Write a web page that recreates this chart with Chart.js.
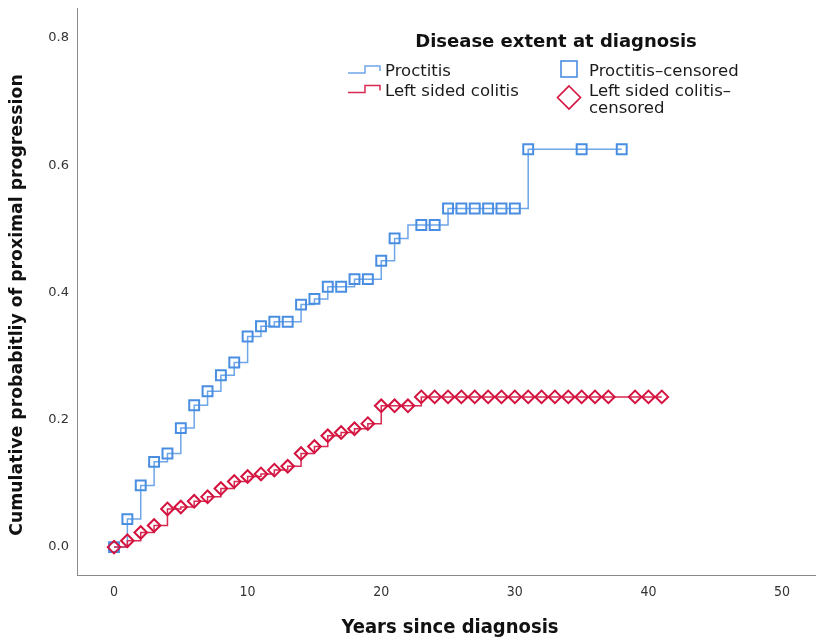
<!DOCTYPE html>
<html>
<head>
<meta charset="utf-8">
<script src="https://cdn.jsdelivr.net/npm/chart.js@4"></script>
<style>
  html, body { margin: 0; padding: 0; background: #fff; }
  canvas { display: block; }
</style>
</head>
<body>
<canvas id="chart" width="816" height="642"></canvas>
<script>
// Cumulative probability of proximal progression by disease extent at diagnosis

// Proctitis: step curve (time in years, cumulative probability)
const proctitisTimes  = [0, 1, 2, 3, 4, 5, 6, 7, 8, 9, 10, 11, 12, 13, 14, 15, 16, 17, 18, 19, 20, 21, 22, 23, 24, 25, 26, 27, 28, 29, 30, 31, 35, 38];
const proctitisValues = [0, 0.044, 0.097, 0.134, 0.147, 0.187, 0.223, 0.245, 0.270, 0.290, 0.331, 0.347, 0.354, 0.354, 0.381, 0.390, 0.409, 0.409, 0.421, 0.421, 0.450, 0.485, 0.506, 0.506, 0.506, 0.532, 0.532, 0.532, 0.532, 0.532, 0.532, 0.625, 0.625, 0.625];
// Proctitis: censoring times
const proctitisCensored = [0, 1, 2, 3, 4, 5, 6, 7, 8, 9, 10, 11, 12, 13, 14, 15, 16, 17, 18, 19, 20, 21, 23, 24, 25, 26, 27, 28, 29, 30, 31, 35, 38];

// Left sided colitis: step curve
const leftTimes  = [0, 1, 2, 3, 4, 5, 6, 7, 8, 9, 10, 11, 12, 13, 14, 15, 16, 17, 18, 19, 20, 21, 22, 23, 24, 25, 26, 27, 28, 29, 30, 31, 32, 33, 34, 35, 36, 37, 39, 40, 41];
const leftValues = [0, 0.010, 0.023, 0.034, 0.060, 0.063, 0.072, 0.079, 0.092, 0.103, 0.111, 0.115, 0.121, 0.127, 0.147, 0.158, 0.175, 0.180, 0.186, 0.194, 0.222, 0.222, 0.222, 0.236, 0.236, 0.236, 0.236, 0.236, 0.236, 0.236, 0.236, 0.236, 0.236, 0.236, 0.236, 0.236, 0.236, 0.236, 0.236, 0.236, 0.236];
// Left sided colitis: censoring times
const leftCensored = [0, 1, 2, 3, 4, 5, 6, 7, 8, 9, 10, 11, 12, 13, 14, 15, 16, 17, 18, 19, 20, 21, 22, 23, 24, 25, 26, 27, 28, 29, 30, 31, 32, 33, 34, 35, 36, 37, 39, 40, 41];

// Axis ticks
const xTicks = [0, 10, 20, 30, 40, 50];
const yTicks = [0, 0.2, 0.4, 0.6, 0.8];

const xTitle = 'Years since diagnosis';
const yTitle = 'Cumulative probabitliy of proximal progression';

const BLUE_LINE = '#6ea6e8';
const BLUE_MARK = '#4a8ee2';
const RED_LINE = '#d62a52';
const RED_MARK = '#d4123e';

const toPoints = (xs, ys) => xs.map((x, i) => ({ x: x, y: ys[i] }));
// value of the step curve at time t (last event at or before t)
const stepValue = (xs, ys, t) => {
  let v = ys[0];
  for (let i = 0; i < xs.length; i++) { if (xs[i] <= t) v = ys[i]; }
  return v;
};
const censorPoints = (cs, xs, ys) => cs.map(t => ({ x: t, y: stepValue(xs, ys, t) }));

// Axis titles and legend block (title, step-line keys, censor marker keys)
const annotations = {
  id: 'annotations',
  afterDraw(chart) {
    const ctx = chart.ctx;
    ctx.save();

    // axis titles
    ctx.fillStyle = '#111';
    ctx.textAlign = 'center';
    ctx.textBaseline = 'middle';
    ctx.font = 'bold 20px "DejaVu Sans Condensed", "DejaVu Sans"';
    ctx.fillText(xTitle, 450, 628);
    ctx.save();
    ctx.translate(18, 305);
    ctx.rotate(-Math.PI / 2);
    ctx.font = 'bold 17.3px "DejaVu Sans"';
    ctx.fillText(yTitle, 0, 0);
    ctx.restore();

    // legend
    ctx.textBaseline = 'alphabetic';
    ctx.textAlign = 'center';
    ctx.font = 'bold 18px "DejaVu Sans"';
    ctx.fillText('Disease extent at diagnosis', 556, 47);

    ctx.textAlign = 'left';
    ctx.font = '16.5px "DejaVu Sans"';
    ctx.fillStyle = '#1a1a1a';

    const stepKey = (y0, color) => {
      ctx.beginPath();
      ctx.strokeStyle = color;
      ctx.lineWidth = 1.5;
      ctx.moveTo(348, y0);
      ctx.lineTo(365, y0);
      ctx.lineTo(365, y0 - 7);
      ctx.lineTo(380, y0 - 7);
      ctx.lineTo(380, y0 - 2);
      ctx.stroke();
    };
    stepKey(73, BLUE_LINE);
    ctx.fillText('Proctitis', 385, 76);
    stepKey(92.5, RED_LINE);
    ctx.fillText('Left sided colitis', 385, 96);

    // square key
    ctx.strokeStyle = BLUE_MARK;
    ctx.lineWidth = 1.6;
    ctx.strokeRect(561, 61, 16, 16);
    ctx.fillText('Proctitis\u2013censored', 589, 76);

    // diamond key
    ctx.beginPath();
    ctx.strokeStyle = RED_MARK;
    ctx.lineWidth = 1.6;
    ctx.moveTo(569, 86);
    ctx.lineTo(580.5, 97.5);
    ctx.lineTo(569, 109);
    ctx.lineTo(557.5, 97.5);
    ctx.closePath();
    ctx.stroke();
    ctx.fillText('Left sided colitis\u2013', 589, 96);
    ctx.fillText('censored', 589, 112.5);
    ctx.restore();
  }
};

new Chart(document.getElementById('chart'), {
  type: 'scatter',
  data: {
    datasets: [
      {
        label: 'Left sided colitis-censored',
        data: censorPoints(leftCensored, leftTimes, leftValues),
        showLine: false,
        pointStyle: 'rectRot',
        pointRadius: 6.3,
        pointHoverRadius: 6.3,
        pointBorderWidth: 2,
        pointBorderColor: RED_MARK,
        pointBackgroundColor: 'rgba(0,0,0,0)'
      },
      {
        label: 'Proctitis-censored',
        data: censorPoints(proctitisCensored, proctitisTimes, proctitisValues),
        showLine: false,
        pointStyle: 'rect',
        pointRadius: 7,
        pointHoverRadius: 7,
        pointBorderWidth: 2,
        pointBorderColor: BLUE_MARK,
        pointBackgroundColor: 'rgba(0,0,0,0)'
      },
      {
        label: 'Left sided colitis',
        data: toPoints(leftTimes, leftValues),
        showLine: true,
        stepped: 'before',
        borderColor: RED_LINE,
        borderWidth: 1.5,
        pointRadius: 0,
        fill: false
      },
      {
        label: 'Proctitis',
        data: toPoints(proctitisTimes, proctitisValues),
        showLine: true,
        stepped: 'before',
        borderColor: BLUE_LINE,
        borderWidth: 1.5,
        pointRadius: 0,
        fill: false
      }
    ]
  },
  options: {
    responsive: false,
    devicePixelRatio: 1,
    animation: false,
    layout: { autoPadding: false, padding: { top: 8, right: 0, bottom: 0, left: 0 } },
    plugins: {
      legend: { display: false },
      tooltip: { enabled: false }
    },
    scales: {
      x: {
        type: 'linear',
        min: -2.77,
        max: 52.54,
        afterBuildTicks: s => { s.ticks = xTicks.map(v => ({ value: v })); },
        afterFit: s => { s.height = 67; s.paddingLeft = 0; s.paddingRight = 0; },
        grid: { display: false, drawTicks: false },
        border: { display: true, color: '#8a8a8a', width: 1 },
        ticks: {
          padding: 9,
          color: '#333',
          font: { family: '"DejaVu Sans Condensed", "DejaVu Sans"', size: 14 },
          callback: v => String(v)
        }
      },
      y: {
        type: 'linear',
        min: -0.0438,
        max: 0.847,
        afterBuildTicks: s => { s.ticks = yTicks.map(v => ({ value: v })); },
        afterFit: s => { s.width = 77; s.paddingTop = 0; s.paddingBottom = 0; },
        grid: { display: false, drawTicks: false },
        border: { display: true, color: '#8a8a8a', width: 1 },
        ticks: {
          padding: 8,
          color: '#333',
          font: { family: '"DejaVu Sans"', size: 13 },
          callback: v => Number(v).toFixed(1)
        }
      }
    }
  },
  plugins: [annotations]
});
</script>
</body>
</html>
